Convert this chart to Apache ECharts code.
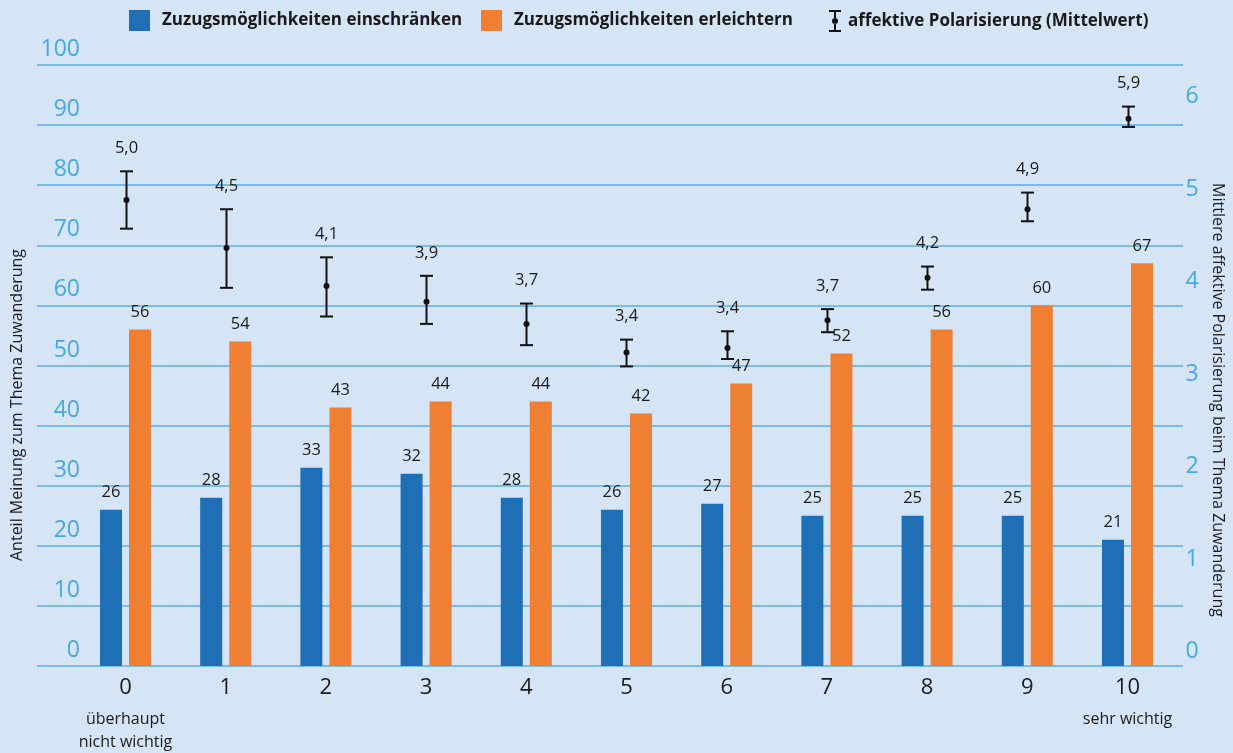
<!DOCTYPE html>
<html>
<head>
<meta charset="utf-8">
<script src="https://cdn.jsdelivr.net/npm/echarts@6/dist/echarts.min.js"></script>
<style>
html,body{margin:0;padding:0;background:#d5e5f5;}
#c{width:1233px;height:753px;}
</style>
</head>
<body>
<div id="c"></div>
<script>
const categories = ['0','1','2','3','4','5','6','7','8','9','10'];
const categorySub = ['überhaupt\nnicht wichtig','','','','','','','','','','sehr wichtig'];
const restrict = [26,28,33,32,28,26,27,25,25,25,21];
const ease = [56,54,43,44,44,42,47,52,56,60,67];
const polMean = [5.04,4.52,4.11,3.94,3.70,3.39,3.44,3.74,4.20,4.94,5.92];
const polLow  = [4.73,4.09,3.78,3.70,3.47,3.24,3.32,3.61,4.07,4.81,5.83];
const polHigh = [5.35,4.94,4.42,4.22,3.92,3.53,3.62,3.86,4.32,5.12,6.05];
const leftTicks = {min:0,max:100,interval:10};
const rightTicks = {min:0,max:6.5,interval:1};
const names = ['Zuzugsmöglichkeiten einschränken','Zuzugsmöglichkeiten erleichtern','affektive Polarisierung (Mittelwert)'];

const FONT = '"Open Sans", "Noto Sans", sans-serif';
const TXT = '#1a1a1a';
const AXC = '#46a8df';
const BLUE = '#1f6fb6';
const ORANGE = '#ef7f32';

const errData = categories.map((c,i)=>[i, polMean[i], polLow[i], polHigh[i]]);
const fmt = v => v.toFixed(1).replace('.', ',');

function renderErr(params, api){
  const i = api.value(0);
  const m = api.value(1), lo = api.value(2), hi = api.value(3);
  const pM = api.coord([i, m]), pL = api.coord([i, lo]), pH = api.coord([i, hi]);
  const x = Math.round(pM[0]) + 0.5, hw = 6.5;
  const st = {stroke:'#111', lineWidth:2};
  return {type:'group', children:[
    {type:'line', shape:{x1:x,y1:pH[1],x2:x,y2:pL[1]}, style:st},
    {type:'line', shape:{x1:x-hw,y1:pH[1],x2:x+hw,y2:pH[1]}, style:st},
    {type:'line', shape:{x1:x-hw,y1:pL[1],x2:x+hw,y2:pL[1]}, style:st},
    {type:'circle', shape:{cx:x,cy:pM[1],r:3}, style:{fill:'#111'}},
    {type:'text', x:x, y:pH[1]-23, style:{text:fmt(m), fill:TXT, fontSize:16.5, fontFamily:FONT, align:'center', verticalAlign:'middle'}}
  ]};
}

const legendText = {color:TXT, fontSize:17, fontWeight:'bold', fontFamily:FONT, padding:[0,0,0,7]};
const errIcon = 'path://M0,0h12v2h-12z M5,2h2v6.3h-2z M6,8a3,3 0 1,0 0.01,0z M5,13.7h2v6.3h-2z M0,20h12v2h-12z';

const chart = echarts.init(document.getElementById('c'));
chart.setOption({
  backgroundColor:'#d5e5f5',
  animation:false,
  textStyle:{fontFamily:FONT},
  legend:[
    {left:129, top:10, padding:0, itemWidth:21, itemHeight:21, textStyle:legendText,
     data:[{name:names[0], icon:'rect'}]},
    {left:481, top:10, padding:0, itemWidth:21, itemHeight:21, textStyle:legendText,
     data:[{name:names[1], icon:'rect'}]},
    {left:829, top:10, padding:0, itemWidth:12, itemHeight:22, textStyle:Object.assign({}, legendText, {padding:[0,0,0,2]}),
     data:[{name:names[2], icon:errIcon, itemStyle:{color:'#111'}}]}
  ],
  grid:[
    {left:37, right:50, top:65, bottom:87},
    {left:75.4, right:55.4, top:65, bottom:87}
  ],
  xAxis:[
    {gridIndex:0, type:'value', show:false, min:0, max:1},
    {gridIndex:1, type:'category', data:categories,
     axisLine:{show:false}, axisTick:{show:false},
     axisLabel:{interval:0, margin:2,
       formatter:(v,idx)=> categorySub[idx] ? '{a|'+v+'}\n' + categorySub[idx].split('\n').map(s=>'{b|'+s+'}').join('\n') : '{a|'+v+'}',
       rich:{a:{fontSize:22, lineHeight:40, color:TXT, fontFamily:FONT}, b:{fontSize:16, lineHeight:23, color:TXT, fontFamily:FONT}}}
    }
  ],
  yAxis:[
    {gridIndex:0, type:'value', min:leftTicks.min, max:leftTicks.max, interval:leftTicks.interval,
     axisLine:{show:false}, axisTick:{show:false},
     splitLine:{show:true, lineStyle:{color:'#55aee2', width:1.5}},
     axisLabel:{inside:true, align:'right', margin:43, verticalAlign:'bottom', padding:[0,0,4,0], color:AXC, fontSize:23, fontFamily:FONT}
    },
    {gridIndex:1, type:'value', min:leftTicks.min, max:leftTicks.max, interval:leftTicks.interval, show:false},
    {gridIndex:1, type:'value', position:'right', min:rightTicks.min, max:rightTicks.max, interval:rightTicks.interval,
     axisLine:{show:false}, axisTick:{show:false}, splitLine:{show:false},
     axisLabel:{showMaxLabel:false, margin:8, align:'left', verticalAlign:'bottom', padding:[0,0,3,0], color:AXC, fontSize:23, fontFamily:FONT,
       formatter:v => Number.isInteger(v) ? String(v) : ''}
    }
  ],
  graphic:[
    {type:'text', x:17, y:405, rotation:Math.PI/2, style:{text:'Anteil Meinung zum Thema Zuwanderung', fill:TXT, fontSize:16, fontFamily:FONT, align:'center', verticalAlign:'middle'}},
    {type:'text', x:1218, y:400, rotation:-Math.PI/2, style:{text:'Mittlere affektive Polarisierung beim Thema Zuwanderung', fill:TXT, fontSize:16, fontFamily:FONT, align:'center', verticalAlign:'middle'}}
  ],
  series:[
    {name:names[0], type:'bar', xAxisIndex:1, yAxisIndex:1, data:restrict, barWidth:22, barGap:'32%',
     itemStyle:{color:BLUE},
     label:{show:true, position:'top', distance:9, color:TXT, fontSize:16.5, fontFamily:FONT}},
    {name:names[1], type:'bar', xAxisIndex:1, yAxisIndex:1, data:ease, barWidth:22, barGap:'32%',
     itemStyle:{color:ORANGE},
     label:{show:true, position:'top', distance:9, color:TXT, fontSize:16.5, fontFamily:FONT}},
    {name:names[2], type:'custom', xAxisIndex:1, yAxisIndex:2, data:errData, renderItem:renderErr,
     itemStyle:{color:'#111'}, encode:{x:0, y:[1,2,3]}, z:5}
  ]
});
</script>
</body>
</html>
